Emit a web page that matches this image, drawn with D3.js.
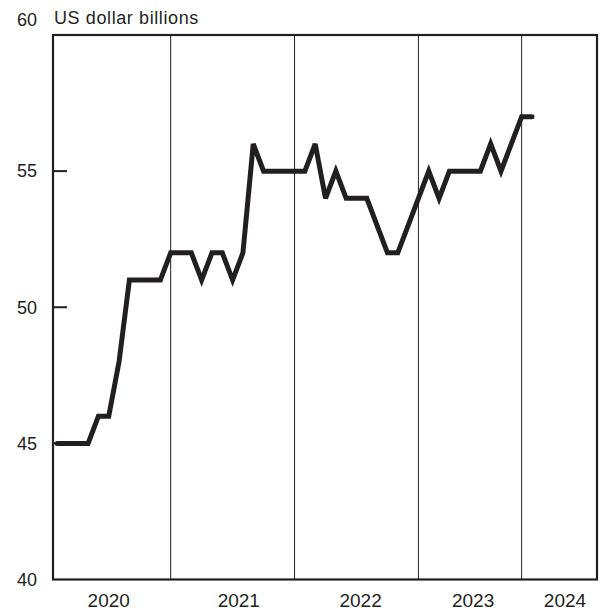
<!DOCTYPE html>
<html>
<head>
<meta charset="utf-8">
<script src="https://cdn.jsdelivr.net/npm/d3@7/dist/d3.min.js"></script>
<style>
  html, body { margin: 0; padding: 0; background: #fff; }
  svg { display: block; }
  text { font-family: "Liberation Sans", Arial, Helvetica, sans-serif; fill: #231f20; }
</style>
</head>
<body>
<svg id="chart" width="605" height="612"></svg>
<script>
// Monthly observations (index = month step), US dollar billions
const values = [45,45,45,45,46,46,48,51,51,51,51,52,
                52,52,51,52,52,51,52,56,55,55,55,55,
                55,56,54,55,54,54,54,53,52,52,53,54,
                55,54,55,55,55,55,56,55,56,57,57];
// year divider positions (in month-step index units)
const dividers = [11, 23, 35, 45];
// year labels and their positions (index units)
const yearLabels = ["2020", "2021", "2022", "2023", "2024"];
const yearPos = [5.0, 17.6, 29.4, 40.3, 49.2];
const yTicks = [40, 45, 50, 55, 60];
const unitLabel = "US dollar billions";

(function () {
const svg = d3.select("#chart");
const mLeft = 53, mRight = 597, mTop = 35, mBottom = 579.5;

const x = d3.scaleLinear().domain([-0.4, 52.3]).range([mLeft, mRight]);
const y = d3.scaleLinear().domain([40, 60]).range([mBottom, mTop]);
const ink = "#231f20";

// year dividers
svg.append("g").selectAll("line").data(dividers).join("line")
  .attr("x1", d => x(d)).attr("x2", d => x(d))
  .attr("y1", mTop).attr("y2", mBottom)
  .attr("stroke", ink).attr("stroke-width", 1);

// y ticks inside
svg.append("g").selectAll("line").data(yTicks.filter(d => d > 40 && d < 60)).join("line")
  .attr("x1", mLeft).attr("x2", mLeft + 14)
  .attr("y1", d => y(d)).attr("y2", d => y(d))
  .attr("stroke", ink).attr("stroke-width", 2);

// frame
svg.append("rect")
  .attr("x", mLeft).attr("y", mTop)
  .attr("width", mRight - mLeft).attr("height", mBottom - mTop)
  .attr("fill", "none").attr("stroke", ink).attr("stroke-width", 2.2);

// y tick labels
svg.append("g").selectAll("text").data(yTicks).join("text")
  .attr("x", 37)
  .attr("y", d => d === 60 ? y(d) - 15 : y(d))
  .attr("dy", "0.35em")
  .attr("text-anchor", "end")
  .attr("font-size", 18)
  .text(d => d);

// unit label
svg.append("text")
  .attr("x", 54).attr("y", 24)
  .attr("font-size", 18)
  .attr("letter-spacing", 0.6)
  .text(unitLabel);

// year labels
svg.append("g").selectAll("text").data(yearLabels).join("text")
  .attr("x", (d, i) => x(yearPos[i]))
  .attr("y", 607)
  .attr("text-anchor", "middle")
  .attr("font-size", 19)
  .text(d => d);

// line
const line = d3.line().x((d, i) => x(i)).y(d => y(d));
svg.append("path")
  .datum(values)
  .attr("d", line)
  .attr("fill", "none")
  .attr("stroke", ink)
  .attr("stroke-width", 5)
  .attr("stroke-linejoin", "miter")
  .attr("stroke-miterlimit", 3)
  .attr("stroke-linecap", "round");
})();
</script>
</body>
</html>
